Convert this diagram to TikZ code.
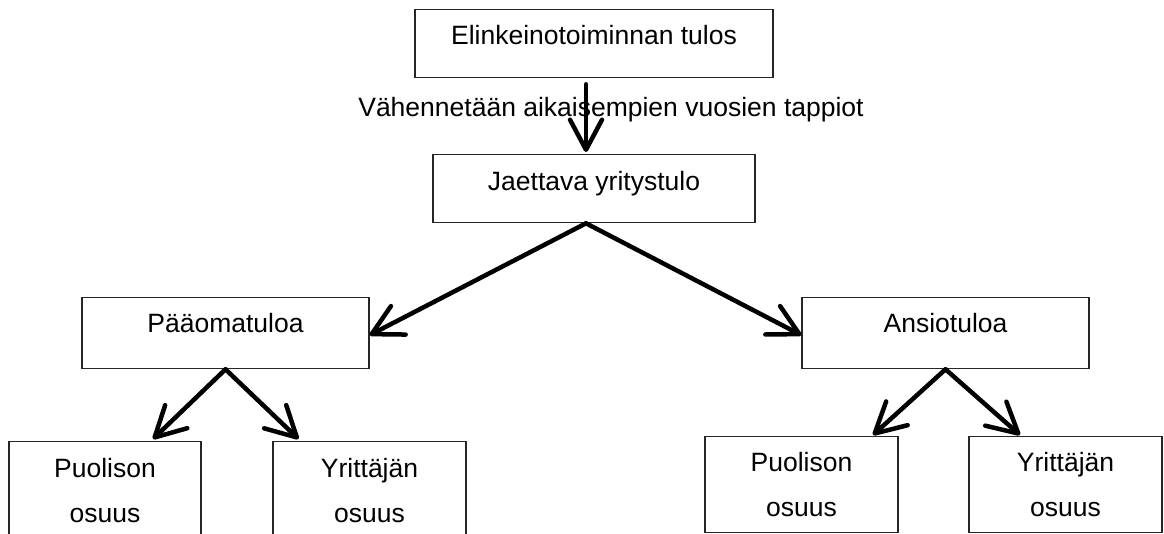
\documentclass[tikz,border=0pt]{standalone}
\usepackage{fontspec}
\setmainfont{Liberation Sans}
\usetikzlibrary{arrows.meta}
\begin{document}
\begin{tikzpicture}[x=1pt,y=-1pt,
  box/.style={draw=black!85,line width=1.3pt,rectangle,inner xsep=0pt,inner ysep=0pt,
    font=\fontsize{26.5}{32}\selectfont,anchor=north},
  onebox/.style={box,text height=35pt,text depth=33pt},
  twobox/.style={box,align=center,font=\fontsize{26.5}{45}\selectfont},
  arr/.style={line width=4.5pt,line cap=round,black,
    -{Straight Barb[length=30pt,width=32pt,round]}},
  lbl/.style={font=\fontsize{26.5}{32}\selectfont,anchor=base,inner sep=0pt}]
\useasboundingbox (0,0) rectangle (1164,534);
\clip (0,0) rectangle (1164,534);
\fill[white] (0,0) rectangle (1164,534);
\node[onebox,minimum width=358pt] (top) at (594,9) {Elinkeinotoiminnan tulos};
\node[onebox,minimum width=322pt,text height=36pt,text depth=32pt] (jt) at (594,154) {Jaettava yritystulo};
\node[onebox,minimum width=287pt,text depth=36pt] (po) at (225.5,297) {Pääomatuloa};
\node[onebox,minimum width=287pt,text depth=36pt] (an) at (945.5,297) {Ansiotuloa};
\node[twobox,minimum width=192pt,minimum height=98pt] (pp1) at (105,441) {Puolison\\osuus};
\node[twobox,minimum width=193pt,minimum height=98pt] (pp2) at (369.5,441) {Yrittäjän\\osuus};
\node[twobox,minimum width=193pt,minimum height=96pt] (ap1) at (801.5,436) {Puolison\\osuus};
\node[twobox,minimum width=193pt,minimum height=96pt] (ap2) at (1065.5,436) {Yrittäjän\\osuus};
\node[lbl] (vl) at (611,117) {Vähennetään aikaisempien vuosien tappiot};
\draw[arr,shorten <=6pt,shorten >=2pt] ([xshift=-8pt]top.south) -- ([xshift=-8pt]jt.north);
\draw[arr] ([xshift=-8pt]jt.south) -- ([yshift=-2pt]po.east);
\draw[arr] ([xshift=-8pt]jt.south) -- ([yshift=-2pt]an.west);
\draw[arr] (po.south) -- ([xshift=48pt,yshift=2pt]pp1.north);
\draw[arr] (po.south) -- ([xshift=-71pt,yshift=2pt]pp2.north);
\draw[arr] (an.south) -- ([xshift=71.5pt,yshift=1pt]ap1.north);
\draw[arr] (an.south) -- ([xshift=-45.5pt,yshift=1pt]ap2.north);
\end{tikzpicture}
\end{document}
